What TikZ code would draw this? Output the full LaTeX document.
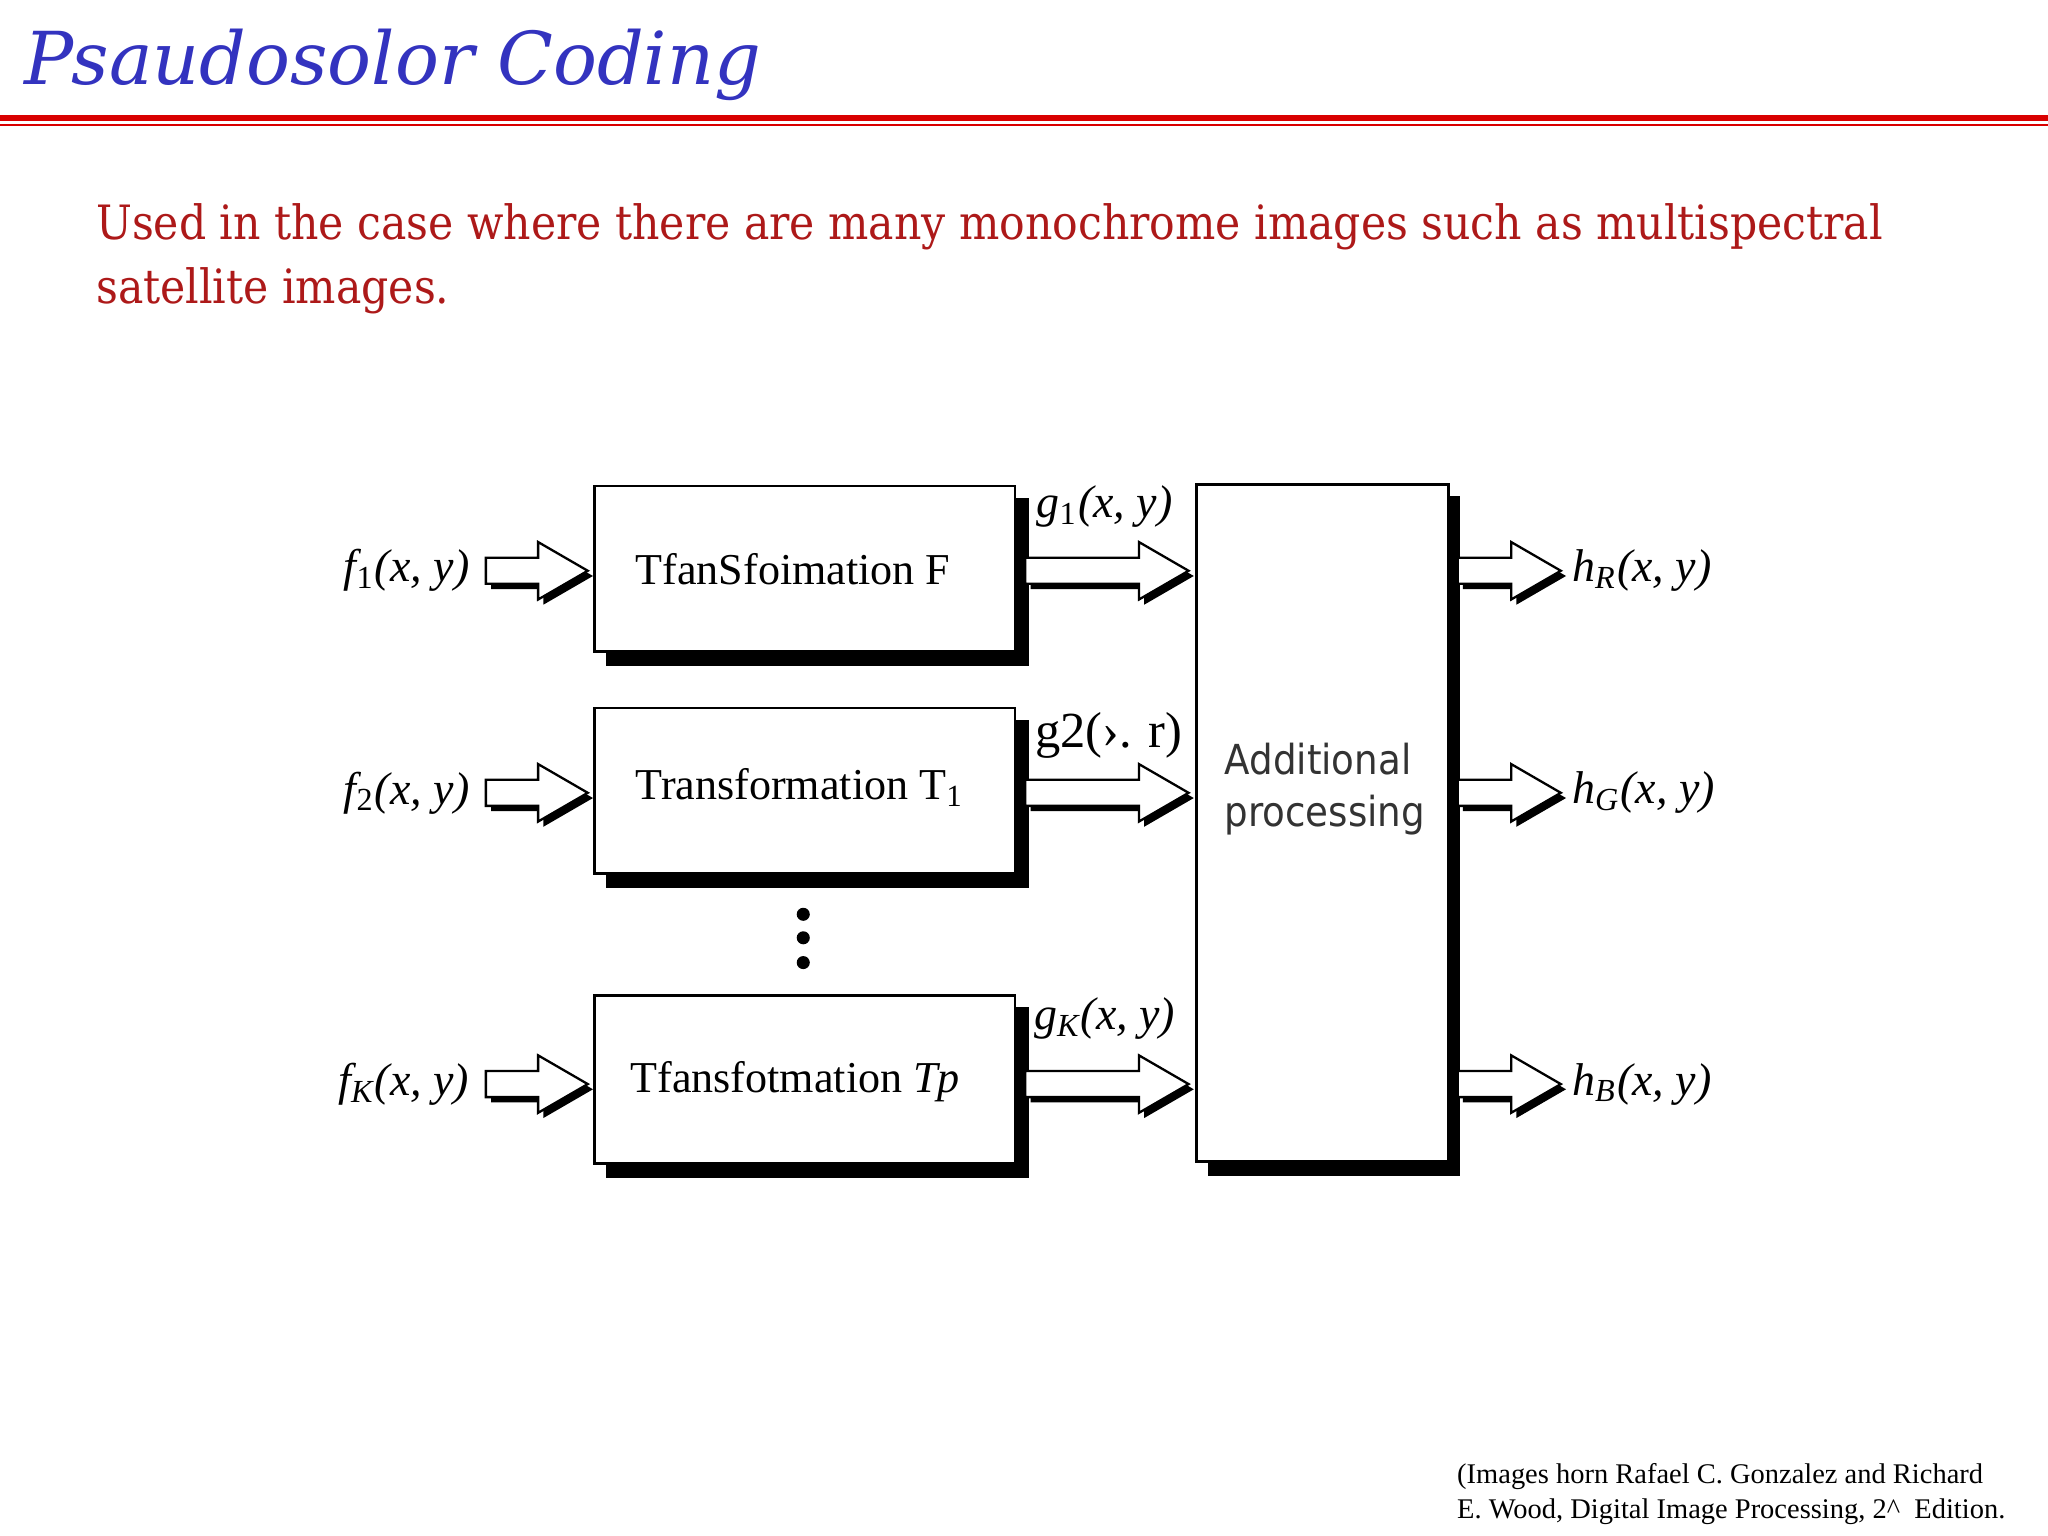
\documentclass[tikz,border=0pt]{standalone}
\usepackage{fontspec}
\setmainfont{Liberation Serif}
\newfontfamily\titlefont{DejaVu Serif}
\newfontfamily\bodyfont{DejaVu Serif Condensed}
\newfontfamily\sansf{DejaVu Sans Condensed}
\definecolor{titleblue}{rgb}{0.2,0.2,0.75}
\definecolor{bodyred}{rgb}{0.68,0.1,0.1}
\newcommand\barrow[3]{%
 \fill[black,shift={(4,4)}] (#1,#3-10)--(#2-38,#3-10)--(#2-38,#3-22)--(#2,#3)--(#2-38,#3+22)--(#2-38,#3+10)--(#1,#3+10)--cycle;
 \filldraw[fill=white,draw=black,line width=0.5pt] (#1,#3-10)--(#2-38,#3-10)--(#2-38,#3-22)--(#2,#3)--(#2-38,#3+22)--(#2-38,#3+10)--(#1,#3+10)--cycle;}
\begin{document}
\begin{tikzpicture}[x=0.01cm,y=-0.01cm,
 blk/.style={draw=black,line width=0.6pt,fill=white,anchor=north west,inner sep=0},
 lbl/.style={font=\fontsize{10}{12}\selectfont\itshape,inner sep=0},
 btxt/.style={font=\fontsize{9.6}{12}\selectfont,inner sep=0}]
\useasboundingbox (0,0) rectangle (1568,1176);
\node[anchor=base west,inner sep=0,text=titleblue,font=\fontsize{15.9}{19}\selectfont\titlefont\itshape] (title) at (18,65) {Psaudosolor Coding};
\draw[red!85!black,line width=1.3pt] (0,90)--(1568,90);
\draw[red!85!black,line width=0.4pt] (0,96)--(1568,96);
\node[anchor=base west,inner sep=0,text=bodyred,font=\fontsize{10.3}{14}\selectfont\bodyfont] (l1) at (73,183) {Used in the case where there are many monochrome images such as multispectral};
\node[anchor=base west,inner sep=0,text=bodyred,font=\fontsize{10.3}{14}\selectfont\bodyfont] (l2) at (73,232) {satellite images.};
% shadows
\foreach \ya/\yb in {371/498,541/668,761/890}{
 \fill[black] (464,\ya+10) rectangle (788,\yb+12);}
\fill[black] (925,380) rectangle (1118,900);
\node[blk,minimum width=322*0.01cm,minimum height=127*0.01cm] (b1) at (454,371) {};
\node[blk,minimum width=322*0.01cm,minimum height=127*0.01cm] (b2) at (454,541) {};
\node[blk,minimum width=322*0.01cm,minimum height=129*0.01cm] (b3) at (454,761) {};
\node[blk,minimum width=193*0.01cm,minimum height=518*0.01cm] (b4) at (915,370) {};
\node[btxt,anchor=west] (t1) at (486,436) {TfanSfoimation F};
\node[btxt,anchor=west] (t2) at (486,603) {Transformation T\textsubscript{1}};
\node[btxt,anchor=west] (t3) at (482,828) {Tfansfotmation \textit{Tp}};
\node[font=\fontsize{9}{11.2}\selectfont\sansf,text=black!80,align=left,anchor=west,inner sep=0] (t4) at (937,604) {Additional\\processing};
% arrows
\foreach \y in {437,607,830}{
 \barrow{372}{450}{\y}
 \barrow{785}{910}{\y}
 \barrow{1116}{1195}{\y}}
% labels
\node[lbl,anchor=east] (f1) at (360,437) {f\textsubscript{\upshape1}(x, y)};
\node[lbl,anchor=east] (f2) at (360,607) {f\textsubscript{\upshape2}(x, y)};
\node[lbl,anchor=east] (fk) at (360,830) {f\textsubscript{K}(x, y)};
\node[lbl,anchor=west] (g1) at (793,388) {g\textsubscript{\upshape1}(x, y)};
\node[font=\fontsize{11}{13}\selectfont,inner sep=0,anchor=west] (g2) at (792,563) {g2(›. r)};
\node[lbl,anchor=west] (gk) at (791,780) {g\textsubscript{K}(x, y)};
\node[lbl,anchor=west] (hr) at (1203,437) {h\textsubscript{R}(x, y)};
\node[lbl,anchor=west] (hg) at (1203,607) {h\textsubscript{G}(x, y)};
\node[lbl,anchor=west] (hb) at (1203,830) {h\textsubscript{B}(x, y)};
\foreach \y in {700,718,737}{\fill[black] (615,\y) circle (5);}
\node[font=\fontsize{6.2}{7.6}\selectfont,align=left,anchor=north west,inner sep=0] (foot) at (1115,1120) {(Images horn Rafael C. Gonzalez and Richard\\E. Wood, Digital Image Processing, 2\^{}\ \ Edition.};
\end{tikzpicture}
\end{document}
